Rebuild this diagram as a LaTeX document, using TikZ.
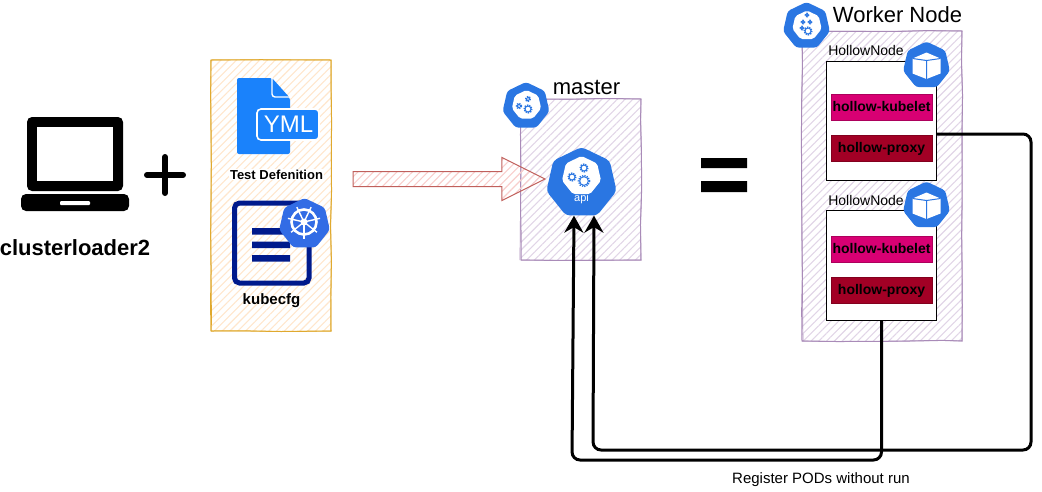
\documentclass[tikz,border=0pt]{standalone}
\usepackage{fontspec}
\setmainfont{Liberation Sans}
\usetikzlibrary{shapes.geometric,shapes.arrows,patterns.meta,decorations.pathmorphing,arrows.meta}
\definecolor{kubeblue}{HTML}{2A76E2}
\definecolor{helmblue}{HTML}{326CE5}
\definecolor{ymlblue}{HTML}{1A82FB}
\definecolor{cfgnavy}{HTML}{001A8C}
\definecolor{sketchgold}{HTML}{E0A92E}
\definecolor{hatchgold}{HTML}{FFE6CC}
\definecolor{sketchpurple}{HTML}{A98BB8}
\definecolor{hatchpurple}{HTML}{E1D5E7}
\definecolor{sketchred}{HTML}{C0605C}
\definecolor{hatchred}{HTML}{F8CECC}
\definecolor{kubeletpink}{HTML}{D80073}
\definecolor{proxyred}{HTML}{A20025}
\tikzset{
	sketchbox/.style={draw=#1,line width=1pt,decorate,decoration={random steps,segment length=35pt,amplitude=0.6pt},
		postaction={draw=#1,line width=0.7pt,decorate,decoration={random steps,segment length=70pt,amplitude=1pt}}},
	hatch/.style={pattern={Lines[angle=45,distance=5.5pt,line width=1.1pt]},pattern color=#1},
	hollowbox/.style={draw=black,fill=white,line width=1pt,minimum width=110pt},
	podbox/.style={draw=#1!80!black,fill=#1,minimum width=101pt,minimum height=26pt,inner sep=0pt,text height=10.5pt,text depth=1.5pt,font=\fontsize{14}{16}\selectfont\bfseries},
	hexicon/.style={regular polygon,regular polygon sides=7,fill=kubeblue,minimum size=48pt,inner sep=0pt,rounded corners=3pt},
	hexinner/.style={regular polygon,regular polygon sides=7,fill=white,inner sep=0pt,rounded corners=2pt},
	reglink/.style={draw=black,line width=3pt,rounded corners=8pt,-{Stealth[length=17pt,width=19pt]}},
	pics/cog/.style={code={
		\draw[kubeblue,line width=1pt] (0,0) circle (3);
		\draw[kubeblue,line width=1.4pt,dash pattern=on 1.2pt off 1.2pt] (0,0) circle (3.9);
	}},
	pics/cube/.style={code={
		\fill[white] (0,-8.5) -- (14,-2.5) -- (14,12.5) -- (0,18) -- (-14,12.5) -- (-14,-2.5) -- cycle;
		\draw[kubeblue,line width=1pt] (-14,-2.5) -- (0,-0.5) -- (14,-2.5) (0,-0.5) -- (0,18);
	}},
}
\newcommand{\txtsize}[1]{\fontsize{#1}{#1}\selectfont}
\begin{document}
\begin{tikzpicture}[x=1pt,y=-1pt]
	\useasboundingbox (0,0) rectangle (1042,491);

	% laptop
	\fill[black,rounded corners=5pt] (27,117) rectangle (123,191);
	\fill[white] (37,127) rectangle (113,181);
	\fill[black,rounded corners=5pt] (21,194) -- (129,194) -- (129,211) -- (21,211) -- cycle;
	\fill[white,rounded corners=1pt] (60,201) rectangle (90,205);
	\node[font=\txtsize{22}\bfseries] (loader) at (75,248) {clusterloader2};

	% plus and equals
	\draw[black,line width=6pt,line cap=round] (147,175) -- (183,175) (165,157) -- (165,193);
	\fill[black] (701,158) rectangle (747,168) (701,181) rectangle (747,192);

	% config box
	\node[sketchbox=sketchgold,hatch=hatchgold,minimum width=120pt,minimum height=271pt] (config) at (271,195.5) {};
	\fill[ymlblue,rounded corners=2pt] (237,78) -- (272,78) -- (290,98) -- (290,154) -- (237,154) -- cycle;
	\draw[white,line width=1.4pt,rounded corners=3pt] (272,76) -- (272,97) -- (292,97);
	\draw[white,fill=ymlblue,line width=1.6pt,rounded corners=4pt] (257,109) rectangle (319,140);
	\node[white,font=\txtsize{24}] (yml) at (288.5,124.5) {YML};
	\node[fill=white,inner sep=1pt,font=\txtsize{13}\bfseries] (testdef) at (276.5,174.5) {Test Defenition};
	\draw[cfgnavy,line width=5pt,rounded corners=5pt] (234.5,203) rectangle (309,283);
	\fill[cfgnavy] (252,228) rectangle (290,234.5) (252,241.5) rectangle (290,248) (252,255) rectangle (290,261.5);
	\node[font=\txtsize{15}\bfseries] (kubecfg) at (271.5,301) {kubecfg};
	\node[hexicon,fill=helmblue,minimum size=52pt] (helm) at (304.5,224) {};
	\draw[white,line width=2.6pt] (304,222) circle (12.5);
	\foreach \a in {90,141.4,...,400}
		\draw[white,line width=1.4pt] (304,222) -- ++(\a:16.5);
	\fill[white] (304,222) circle (3.5);

	% master box
	\node[sketchbox=sketchpurple,hatch=hatchpurple,minimum width=120pt,minimum height=161pt] (master) at (581,179.5) {};
	\node[font=\txtsize{22}] (mastertxt) at (586.5,87) {master};
	\node[hexicon] (mastericon) at (526,106) {};
	\node[hexinner,minimum size=30pt] (masterinner) at (526.5,105) {};
	\pic[scale=0.65] at (519,106) {cog};
	\pic[scale=1] at (528,109) {cog};
	\pic[scale=0.6] at (528,99) {cog};

	% block arrow into master
	\node[single arrow,draw=sketchred,line width=1pt,hatch=hatchred,minimum height=192pt,minimum width=42pt,single arrow head extend=14pt,single arrow head indent=0pt,single arrow tip angle=53,inner sep=7pt] (deploy) at (441.5,179) {};

	\node[hexicon,minimum size=72pt,rounded corners=4pt] (api) at (581.5,183) {};
	\node[hexinner,minimum size=40pt] (apiinner) at (581.5,176) {};
	\pic[scale=1] at (572,177) {cog};
	\pic[scale=1.45] at (584,181) {cog};
	\pic[scale=1] at (584,168) {cog};
	\node[white,font=\txtsize{11}] (apitxt) at (581.5,199) {api};

	% worker box
	\node[sketchbox=sketchpurple,hatch=hatchpurple,minimum width=160pt,minimum height=310pt] (worker) at (882,186) {};
	\node[font=\txtsize{22}] (workertxt) at (897.5,15) {Worker Node};
	\node[hexicon] (workericon) at (806.5,26) {};
	\node[hexinner,minimum size=30pt] (workerinner) at (807,25.5) {};
	\pic[scale=1] at (808,31) {cog};
	\pic[scale=0.45] at (802,28) {cog};
	\pic[scale=0.45] at (803,22) {cog};
	\pic[scale=0.45] at (810,22) {cog};
	\pic[scale=0.45] at (807,15) {cog};

	% first hollow node
	\node[hollowbox,minimum height=119pt] (hollowone) at (881.5,120.5) {};
	\node[font=\txtsize{14}] (hollowonetxt) at (866,50.5) {HollowNode};
	\node[podbox=kubeletpink] (kubeletone) at (881.5,107) {hollow-kubelet};
	\node[podbox=proxyred] (proxyone) at (881.5,148) {hollow-proxy};
	\node[hexicon] (cubeone) at (926.5,65.5) {};
	\pic at (926.5,61) {cube};

	% second hollow node
	\node[hollowbox,minimum height=110pt] (hollowtwo) at (881.5,265) {};
	\node[font=\txtsize{14}] (hollowtwotxt) at (866,200.5) {HollowNode};
	\node[podbox=kubeletpink] (kubelettwo) at (881.5,249) {hollow-kubelet};
	\node[podbox=proxyred] (proxytwo) at (881.5,290) {hollow-proxy};
	\node[hexicon] (cubetwo) at (926.5,205.5) {};
	\pic at (926.5,201) {cube};

	% register links
	\coordinate (turnone) at (1031,450);
	\draw[reglink] (hollowtwo.south) -- (hollowtwo.south |- 0,460) -- (572,460) -- (api.south -| 574,0);
	\draw[reglink] (hollowone.east |- 0,134) -- (1031,134) -- (turnone) -- (593,450) -- (api.south -| 594,0);
	\node[font=\txtsize{15}] (regtxt) at (821,480) {Register PODs without run};
\end{tikzpicture}
\end{document}
